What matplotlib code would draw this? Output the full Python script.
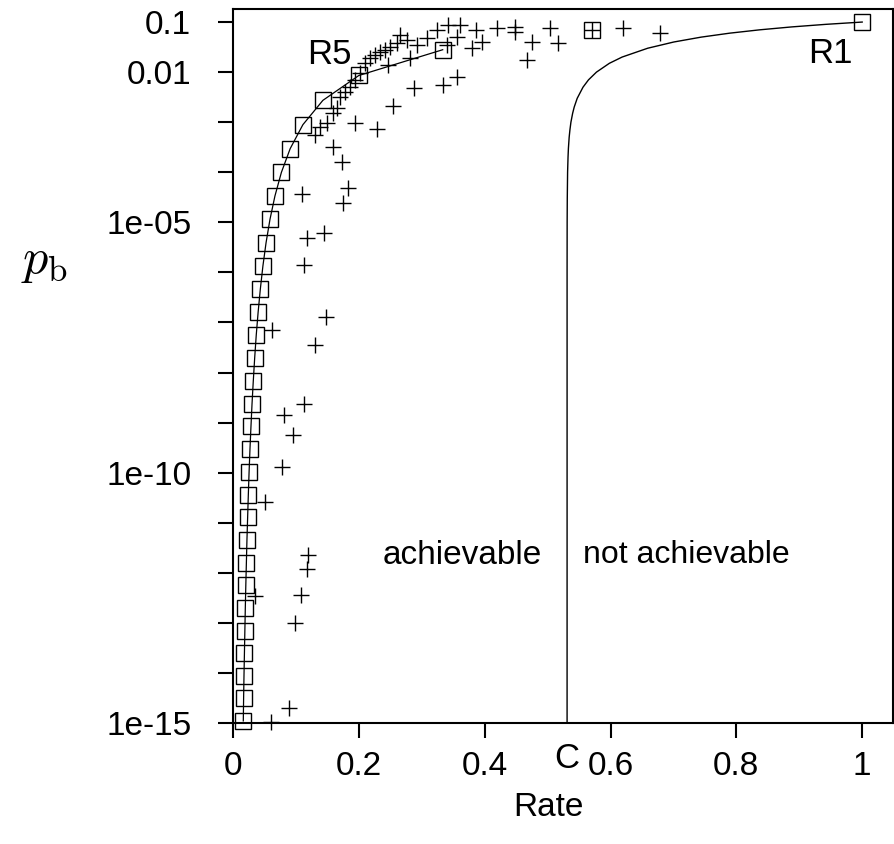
import matplotlib
matplotlib.use('Agg')
import matplotlib.pyplot as plt
import matplotlib.ticker as ticker
import matplotlib.transforms as transforms

plt.rcParams['font.family'] = ['Liberation Sans', 'DejaVu Sans']
plt.rcParams['mathtext.fontset'] = 'cm'

# repetition codes R1, R3, R5, ... R61
rep_rate = [1.0, 0.3333, 0.2, 0.1429, 0.1111, 0.0909, 0.0769, 0.0667, 0.0588, 0.0526,
            0.0476, 0.0435, 0.04, 0.0370, 0.0345, 0.0323, 0.0303, 0.0286, 0.0270, 0.0256,
            0.0244, 0.0233, 0.0222, 0.0213, 0.0204, 0.0196, 0.0189, 0.0182, 0.0175, 0.0169,
            0.0164]
rep_pb = [0.1, 0.028, 8.56e-3, 2.73e-3, 8.91e-4, 2.96e-4, 9.9e-5, 3.36e-5, 1.145e-5, 3.93e-6,
          1.35e-6, 4.67e-7, 1.62e-7, 5.63e-8, 1.96e-8, 6.85e-9, 2.40e-9, 8.40e-10, 2.94e-10, 1.03e-10,
          3.64e-11, 1.28e-11, 4.51e-12, 1.59e-12, 5.61e-13, 1.98e-13, 7.01e-14, 2.48e-14, 8.77e-15, 3.10e-15,
          1.10e-15]

# Hamming (7,4)
ham_rate = [0.571]
ham_pb = [0.07]

# other codes (+)
bch_rate = [0.620, 0.678, 0.504, 0.517, 0.475, 0.467, 0.448, 0.448, 0.419, 0.387,
            0.395, 0.380, 0.361, 0.342, 0.324, 0.356, 0.340, 0.308, 0.292, 0.276,
            0.266, 0.260, 0.250, 0.242, 0.234, 0.226, 0.218, 0.210, 0.246, 0.281,
            0.356, 0.334, 0.287, 0.255, 0.2285, 0.194, 0.1595,
            0.202, 0.194, 0.186, 0.178, 0.170, 0.165, 0.159, 0.149, 0.138, 0.130,
            0.1725, 0.1833, 0.1754, 0.1092, 0.1172, 0.1447, 0.1129, 0.1479, 0.0615, 0.1304,
            0.1129, 0.0816, 0.0949, 0.0784, 0.0509, 0.1197, 0.1181, 0.1081, 0.0350, 0.0986,
            0.0890, 0.0604]
bch_pb = [0.0748, 0.0594, 0.0776, 0.0376, 0.0404, 0.0178, 0.0794, 0.0631, 0.0748, 0.0692,
          0.0404, 0.0298, 0.0871, 0.0871, 0.0692, 0.0513, 0.0347, 0.0472, 0.0347, 0.0437,
          0.0550, 0.0376, 0.0321, 0.0276, 0.0255, 0.0219, 0.0188, 0.0150, 0.0138, 0.0188,
          0.0081, 0.0055, 0.00474, 0.0021, 7.46e-4, 9.5e-4, 3.24e-4,
          0.0095, 0.0069, 0.0050, 0.0040, 0.0032, 0.0019, 0.0015, 9.5e-4, 7.9e-4, 5.5e-4,
          1.62e-4, 4.8e-5, 2.4e-5, 3.7e-5, 4.8e-6, 6.2e-6, 1.4e-6, 1.3e-7, 7.1e-8, 3.5e-8,
          2.4e-9, 1.4e-9, 5.6e-10, 1.3e-10, 2.6e-11, 2.3e-12, 1.2e-12, 3.6e-13, 3.4e-13, 1.0e-13,
          2.0e-15, 1.06e-15]

# Shannon limit
shannon_pb = [0.1, 0.09, 0.08, 0.07, 0.06, 0.05, 0.04, 0.03, 0.02, 0.015,
              0.01, 0.007, 0.005, 0.003, 0.002, 0.0015, 0.001, 7e-4, 5e-4, 3e-4,
              2e-4, 1e-4, 3e-5, 1e-5, 1e-6, 1e-7, 1e-15]
shannon_rate = [1.0, 0.9423, 0.8882, 0.8374, 0.7895, 0.7441, 0.7008, 0.6591, 0.6185, 0.5982,
                0.5777, 0.5650, 0.5563, 0.5471, 0.5423, 0.5398, 0.5371, 0.5355, 0.5343, 0.5331,
                0.5325, 0.5318, 0.5313, 0.5311, 0.5310, 0.5310, 0.5310]
C = 0.531

fig = plt.figure(figsize=(8.94, 8.44), dpi=100)
ax = fig.add_axes([0.2606, 0.1434, 0.7383, 0.8459])

ax.plot(shannon_rate, shannon_pb, color='black', lw=1.0)
ax.plot(rep_rate[1:], rep_pb[1:], color='black', lw=0.9)
ax.plot(rep_rate, rep_pb, ls='none', marker='s', ms=11.5, mfc='none', mec='black', mew=1.0, clip_on=False)
ax.plot(ham_rate, ham_pb, ls='none', marker='s', ms=11.5, mfc='none', mec='black', mew=1.0)
ax.plot(bch_rate + ham_rate, bch_pb + ham_pb, ls='none', marker='+', ms=12, mec='black', mew=1.0, clip_on=False)

ax.set_yscale('log')
ax.set_xlim(0, 1.049)
ax.set_ylim(1e-15, 0.182)

ax.set_xticks([0, 0.2, 0.4, 0.6, 0.8, 1])
ax.set_xticklabels(['0', '0.2', '0.4', '0.6', '0.8', '1'])
ax.yaxis.set_major_locator(ticker.FixedLocator([10.0 ** -k for k in range(1, 16)]))
ylabels = {1: '0.1', 2: '0.01', 5: '1e-05', 10: '1e-10', 15: '1e-15'}
ax.yaxis.set_major_formatter(ticker.FixedFormatter([ylabels.get(k, '') for k in range(1, 16)]))
ax.yaxis.set_minor_locator(ticker.NullLocator())
ax.tick_params(direction='out', length=11, width=1.5, labelsize=24)
ax.tick_params(axis='y', pad=19)
ax.tick_params(axis='x', pad=9)
for s in ax.spines.values():
    s.set_linewidth(1.5)

ax.text(0.154, 0.022, 'R5', fontsize=25, ha='center', va='center')
ax.text(0.949, 0.024, 'R1', fontsize=25, ha='center', va='center')
ax.text(0.364, 2.26e-12, 'achievable', fontsize=24, ha='center', va='center')
ax.text(0.720, 2.26e-12, 'not achievable', fontsize=23, ha='center', va='center')
trans = transforms.blended_transform_factory(ax.transData, ax.transAxes)
ax.text(C, -0.05, 'C', fontsize=25, ha='center', va='center', transform=trans)

fig.text(548 / 894, 1 - 808 / 844, 'Rate', fontsize=24, ha='center', va='center')
fig.text(45 / 894, 1 - 262 / 844, r'$p_{\rm b}$', fontsize=36, ha='center', va='center')

fig.savefig('out.png', dpi=100)
